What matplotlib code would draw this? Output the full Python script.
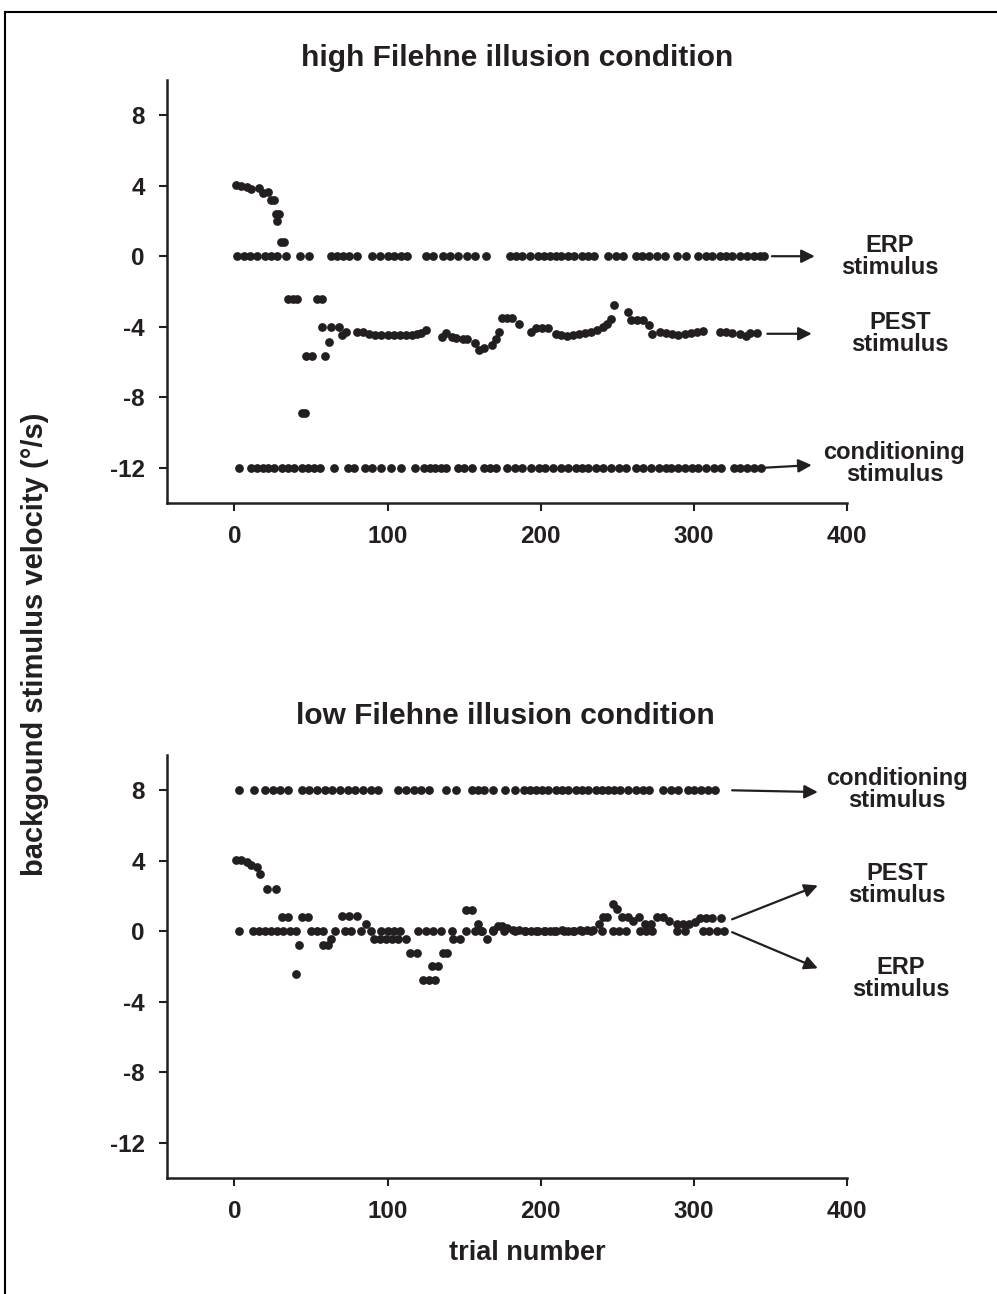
"""Filehne illusion staircase plot."""
import matplotlib
matplotlib.use('Agg')
import matplotlib.pyplot as plt
from matplotlib.lines import Line2D

plt.rcParams['font.family'] = ['Liberation Sans', 'DejaVu Sans']
plt.rcParams['font.weight'] = 'bold'
plt.rcParams['axes.unicode_minus'] = False
INK = '#231f20'

# ---- high Filehne illusion condition ----
high_erp_x = [2, 6, 10, 15, 20, 24, 28, 34, 43, 49, 63, 67, 71, 75, 80, 90, 95, 100, 104, 109, 113,
              125, 130, 136, 141, 146, 152, 157, 164, 180, 184, 188, 193, 198, 202, 206, 210, 213,
              218, 222, 227, 231, 235, 244, 249, 254, 262, 266, 271, 276, 281, 289, 295, 303, 308,
              312, 317, 321, 325, 330, 335, 339, 343, 346]
high_cond_x = [3, 11, 15, 19, 22, 26, 31, 35, 39, 44, 48, 52, 56, 65, 74, 78, 85, 90, 96, 102, 109,
               118, 124, 128, 131, 135, 138, 146, 150, 155, 163, 167, 171, 178, 183, 188, 194, 199,
               203, 208, 213, 218, 223, 227, 231, 236, 241, 246, 251, 256, 262, 267, 272, 277, 282,
               285, 290, 294, 299, 303, 308, 313, 318, 326, 330, 335, 339, 344]
high_pest_x = [1, 4, 8, 11, 16, 18.5, 22, 24, 26, 27, 29, 28, 30.5, 32.7, 35, 38, 41, 44, 46, 47, 51,
               54, 57, 57.3, 59, 61.6, 63, 68, 70, 73, 80, 84, 88, 92, 96, 100, 104, 108, 112, 116,
               119, 122, 125, 135.6, 138, 142, 145, 149, 152, 157, 160, 163, 168, 171, 173, 175,
               178, 181, 186, 194, 197, 201, 205, 210, 213, 217, 221, 225, 229, 233, 237, 241, 243,
               246, 248, 257, 259, 263, 267, 271, 273, 278, 282, 286, 290, 294, 298, 302, 306, 317,
               321, 325, 330, 334, 337, 341]
high_pest_y = [4.03, 4.0, 3.9, 3.8, 3.85, 3.6, 3.67, 3.2, 3.2, 2.39, 2.39, 2.0, 0.78, 0.78, -2.44,
               -2.44, -2.44, -8.9, -8.9, -5.66, -5.66, -2.44, -2.44, -4.01, -5.66, -4.87, -4.01,
               -4.01, -4.45, -4.3, -4.3, -4.3, -4.4, -4.45, -4.45, -4.45, -4.45, -4.45, -4.45,
               -4.45, -4.4, -4.35, -4.2, -4.58, -4.35, -4.6, -4.65, -4.7, -4.7, -4.92, -5.34, -5.2,
               -5.06, -4.68, -4.3, -3.48, -3.48, -3.48, -3.83, -4.3, -4.05, -4.05, -4.1, -4.4,
               -4.45, -4.5, -4.45, -4.4, -4.35, -4.3, -4.2, -4.0, -3.83, -3.55, -2.75, -3.16, -3.6,
               -3.6, -3.6, -3.92, -4.4, -4.3, -4.35, -4.4, -4.45, -4.4, -4.35, -4.3, -4.25, -4.3,
               -4.3, -4.35, -4.4, -4.5, -4.38, -4.38]

# ---- low Filehne illusion condition ----
low_cond_x = [3, 13, 20, 25, 30, 35, 44, 49, 54, 59, 64, 69, 74, 79, 84, 89, 94, 107, 112, 117, 122,
              127, 138, 145, 155, 159, 163, 169, 177, 183, 189, 193, 197, 201, 205, 210, 214, 218,
              223, 227, 231, 236, 240, 244, 248, 252, 257, 262, 267, 271, 280, 285, 290, 296, 300,
              305, 309, 314]
low_erp_x = [3, 12, 16, 20, 24, 28, 32, 36, 40, 50, 54, 58, 66, 72, 76, 83, 89, 96, 100, 104, 108,
             120, 125, 130, 135, 142, 151, 157, 161, 169, 176, 183, 190, 197, 203, 209, 215, 221,
             227, 233, 240, 247, 251, 256, 265, 269, 273, 289, 294, 306, 310, 315, 320]
low_pest_x = [1, 4, 8, 11, 15, 17, 21, 27, 31, 35, 40, 42, 44, 48, 58, 61, 63, 70, 75, 80, 86, 91,
              95, 99, 103, 107, 112, 115, 119, 123, 127, 131, 129, 133, 136, 139, 143, 147, 151,
              155, 159, 162, 165, 169, 172, 175, 178, 182, 186, 190, 194, 198, 202, 206, 210, 214,
              218, 222, 226, 230, 234, 238, 241, 243, 247, 250, 253, 257, 260, 264, 268, 272, 276,
              280, 284, 289, 293, 297, 301, 304, 308, 312, 318]
low_pest_y = [4.03, 4.03, 3.94, 3.75, 3.65, 3.24, 2.42, 2.42, 0.81, 0.81, -2.4, -0.8, 0.81, 0.81,
              -0.8, -0.8, -0.41, 0.85, 0.85, 0.85, 0.44, -0.41, -0.41, -0.41, -0.41, -0.41, -0.41,
              -1.21, -1.21, -2.78, -2.78, -2.78, -1.99, -1.99, -1.21, -1.21, -0.41, -0.41, 1.23,
              1.23, 0.44, 0.0, -0.41, 0.1, 0.3, 0.3, 0.2, 0.1, 0.05, 0.0, 0.0, 0.0, 0.0, 0.0, 0.0,
              0.05, 0.0, 0.0, 0.05, 0.05, 0.1, 0.44, 0.81, 0.81, 1.57, 1.29, 0.81, 0.81, 0.6, 0.81,
              0.44, 0.44, 0.81, 0.81, 0.6, 0.44, 0.44, 0.44, 0.55, 0.74, 0.74, 0.74, 0.74]

x_ticks = [0, 100, 200, 300, 400]
y_ticks = [-12, -8, -4, 0, 4, 8]

fig = plt.figure(figsize=(9.97, 12.94), dpi=100)
ax_hi = fig.add_axes([0.1675, 0.6113, 0.682, 0.3269])
ax_lo = fig.add_axes([0.1675, 0.0896, 0.682, 0.3269])

ms = 6.3
ax_hi.plot(high_erp_x, [0] * len(high_erp_x), 'o', ms=ms, color=INK, mec='none')
ax_hi.plot(high_cond_x, [-12] * len(high_cond_x), 'o', ms=ms, color=INK, mec='none')
ax_hi.plot(high_pest_x, high_pest_y, 'o', ms=ms, color=INK, mec='none')
ax_lo.plot(low_cond_x, [8] * len(low_cond_x), 'o', ms=ms, color=INK, mec='none')
ax_lo.plot(low_erp_x, [0] * len(low_erp_x), 'o', ms=ms, color=INK, mec='none')
ax_lo.plot(low_pest_x, low_pest_y, 'o', ms=ms, color=INK, mec='none')

for ax in (ax_hi, ax_lo):
    ax.set_xlim(-44, 400); ax.set_ylim(-14, 10)
    ax.set_xticks(x_ticks); ax.set_yticks(y_ticks)
    for s in ('top', 'right'):
        ax.spines[s].set_visible(False)
    for s in ('left', 'bottom'):
        ax.spines[s].set_linewidth(1.8); ax.spines[s].set_color(INK)
    ax.tick_params(width=1.5, length=6, color=INK, labelsize=17.5, pad=10, labelcolor=INK)
    ax.set_facecolor('none')

arrow = dict(arrowstyle='-|>', lw=1.6, color=INK, mutation_scale=20, shrinkA=0, shrinkB=0)
txt = dict(ha='center', va='center', fontsize=17, fontweight='bold', color=INK,
           linespacing=0.95, annotation_clip=False)
ax_hi.annotate('', xy=(379, 0), xytext=(351, 0), arrowprops=arrow, annotation_clip=False)
ax_hi.annotate('ERP\nstimulus', xy=(428, 0), **txt)
ax_hi.annotate('', xy=(377, -4.4), xytext=(348, -4.4), arrowprops=arrow, annotation_clip=False)
ax_hi.annotate('PEST\nstimulus', xy=(434.5, -4.4), **txt)
ax_hi.annotate('', xy=(377, -11.85), xytext=(346, -12), arrowprops=arrow, annotation_clip=False)
ax_hi.annotate('conditioning\nstimulus', xy=(431, -11.76), **txt)
ax_lo.annotate('', xy=(381, 7.9), xytext=(325, 8), arrowprops=arrow, annotation_clip=False)
ax_lo.annotate('conditioning\nstimulus', xy=(432.7, 8.07), **txt)
ax_lo.annotate('', xy=(381, 2.6), xytext=(325, 0.68), arrowprops=arrow, annotation_clip=False)
ax_lo.annotate('PEST\nstimulus', xy=(432.7, 2.67), **txt)
ax_lo.annotate('', xy=(381, -2.1), xytext=(325, -0.05), arrowprops=arrow, annotation_clip=False)
ax_lo.annotate('ERP\nstimulus', xy=(435.3, -2.67), **txt)

fig.text(0.5186, 0.9552, 'high Filehne illusion condition', ha='center', va='center',
         fontsize=21.5, fontweight='bold', color=INK)
fig.text(0.5065, 0.4467, 'low Filehne illusion condition', ha='center', va='center',
         fontsize=21.5, fontweight='bold', color=INK)
fig.text(0.035, 0.5023, 'backgound stimulus velocity (°/s)', rotation=90, ha='center',
         va='center', fontsize=21, fontweight='bold', color=INK)
fig.text(0.5286, 0.0317, 'trial number', ha='center', va='center', fontsize=19.5,
         fontweight='bold', color=INK)

# frame around the panel (left and top edges only visible)
fig.add_artist(Line2D([5 / 997, 5 / 997], [1 - 12 / 1294, 0], transform=fig.transFigure,
                      color='black', lw=1.5))
fig.add_artist(Line2D([5 / 997, 1], [1 - 12 / 1294, 1 - 12 / 1294], transform=fig.transFigure,
                      color='black', lw=1.5))

fig.savefig('out.png', dpi=100, facecolor='white')
